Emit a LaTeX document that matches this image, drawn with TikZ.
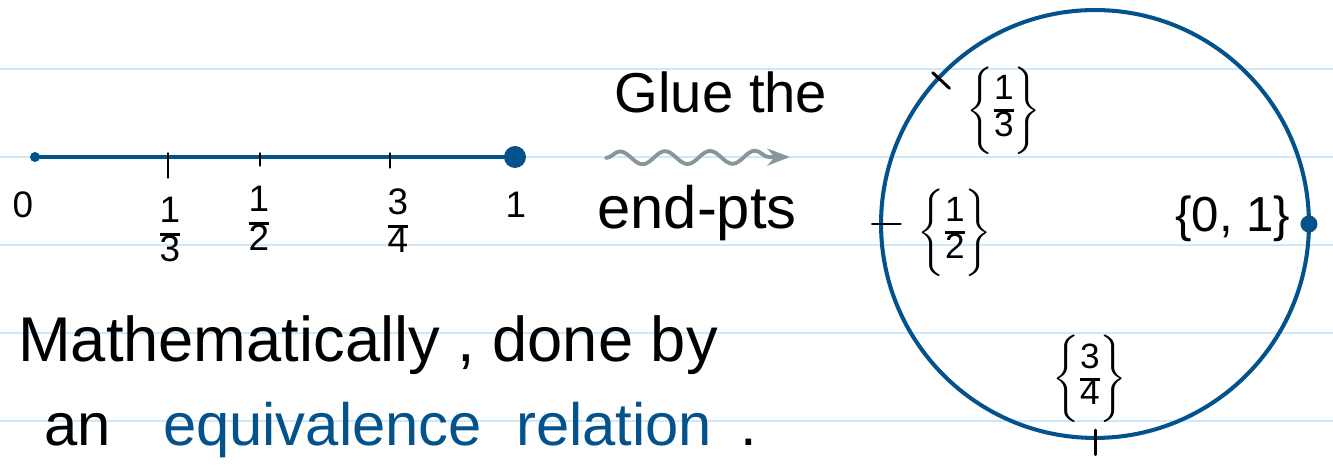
\RequirePackage{fix-cm}
\documentclass[tikz,border=0pt]{standalone}
\usepackage{fontspec}
\setmainfont{Liberation Sans}
\usepackage{amsmath}
\usetikzlibrary{arrows.meta, decorations.pathmorphing, positioning}
\definecolor{inkblue}{RGB}{3,82,140}
\definecolor{ruleblue}{RGB}{204,232,250}
\definecolor{wavegray}{RGB}{135,150,155}
\setlength{\arrayrulewidth}{1.6pt}
\newcommand{\handfrac}[2]{\begin{tabular}{@{}c@{}}#1\\\hline #2\end{tabular}}

\begin{document}
\begin{tikzpicture}[
    x=0.02cm, y=-0.02cm,
    >=Stealth,
    rule/.style={ruleblue, line width=1.1pt},
    ink/.style={inkblue, line width=2.8pt, line cap=round},
    notch/.style={black, line width=1.7pt, line cap=round},
    hand/.style={font=\fontsize{36}{40}\selectfont},
    fraclabel/.style={font=\fontsize{21}{20}\selectfont, inner sep=0pt},
    classlabel/.style={font=\fontsize{20}{18}\selectfont, inner sep=0pt},
]
\useasboundingbox (0,0) rectangle (1333,472);

% === PAPEL RAYADO ===
\foreach \y in {69,157,245,333,421} {
    \draw[rule] (0,\y) -- (1333,\y);
}

% === SEGMENTO [0,1] ===
\coordinate (p0) at (35,157);
\coordinate (p1) at (515,157);
\draw[ink] (p0) -- (p1);
\fill[inkblue] (p0) circle (0.1cm);
\fill[inkblue] (p1) circle (0.22cm);

% Marcas
\foreach \x/\name/\len in {168/third/24, 260/half/12, 390/threeq/14} {
    \coordinate (\name) at (\x,157);
    \draw[notch] ([yshift=2pt]\name) -- ++(0,\len);
}

% Etiquetas
\node[fraclabel] (lab0) at (23,205) {0};
\node[fraclabel] (lab1) at (516,205) {1};
\node[fraclabel] (labthird) at (170,235) {\handfrac{1}{3}};
\node[fraclabel] (labhalf) at (259,224) {\handfrac{1}{2}};
\node[fraclabel] (labthreeq) at (398,226) {\handfrac{3}{4}};

% === PEGAR LOS EXTREMOS ===
\node[hand, font=\fontsize{32}{36}\selectfont] (glue) at (721,92) {Glue the};
\node[hand, font=\fontsize{34}{36}\selectfont] (endpts) at (697,213) {end-pts};
\coordinate (wstart) at (606,158);
\coordinate (wend) at (790,157);
\draw[->, wavegray, line width=2.2pt, line cap=round,
    decorate, decoration={snake, amplitude=1.3mm, segment length=9mm, post length=4mm}]
    (wstart) -- (wend);

% === CIRCULO ===
\node[circle, draw=inkblue, line width=2.3pt, minimum size=8.56cm,
    inner sep=0pt, outer sep=0pt] (ring) at (1095,224) {};
\draw[notch] ([shift={(137:-8.5pt)}]ring.137) -- ([shift={(137:4.5pt)}]ring.137);
\draw[notch] ([shift={(180:-11pt)}]ring.180) -- ([shift={(180:5pt)}]ring.180);
\draw[notch] ([shift={(-90:-4.5pt)}]ring.-90) -- ([shift={(-90:9.5pt)}]ring.-90);
\fill[inkblue] (ring.0) circle (0.17cm);

% Clases de equivalencia
\node[classlabel] (cthird) at (1004,111) {$\biggl\{\handfrac{1}{3}\biggr\}$};
\node[classlabel] (chalf) at (955,233) {$\biggl\{\handfrac{1}{2}\biggr\}$};
\node[classlabel, font=\fontsize{28}{30}\selectfont] (cends) at (1233,219) {\{0, 1\}};
\node[classlabel] (cthreeq) at (1090,379) {$\biggl\{\handfrac{3}{4}\biggr\}$};

% === TEXTO ===
\node[hand, anchor=west] (mathly) at (12,345) {Mathematically , done by};
\node[hand, font=\fontsize{34}{40}\selectfont, anchor=west] (equiv) at (38,430)
    {an\hspace{0.6em} \textcolor{inkblue}{equivalence\hspace{0.3em} relation}\hspace{0.2em} .};

\end{tikzpicture}
\end{document}
